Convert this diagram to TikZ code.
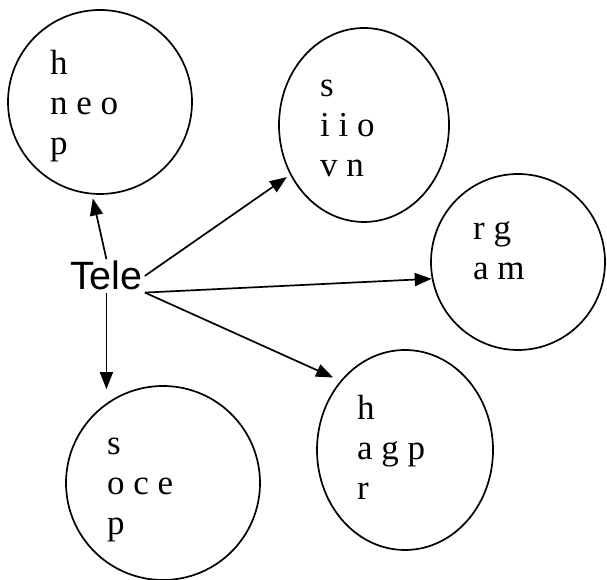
\documentclass[tikz,border=0pt]{standalone}
\usepackage{fontspec}
\setmainfont{Liberation Serif}
\newfontfamily\telefont{Liberation Sans}
\usetikzlibrary{arrows.meta,shapes.geometric}

\tikzset{
	bubble/.style={draw, ellipse, line width=1.7pt, inner sep=0pt},
	words/.style={anchor=base west, align=left, inner sep=0pt, font=\fontsize{35}{40}\selectfont},
	link/.style={-{Triangle[length=17pt,width=13pt]}, line width=1.7pt},
}

\begin{document}
\begin{tikzpicture}[x=1pt,y=1pt]
		\useasboundingbox (0,0) rectangle (607,580);
		% the five bubbles
		\node[bubble, minimum width=184pt, minimum height=184pt] (topleft) at (100,478) {};
		\node[bubble, minimum width=170pt, minimum height=194pt] (topmid) at (364,455) {};
		\node[bubble, minimum width=174pt, minimum height=176pt] (right) at (518,318) {};
		\node[bubble, minimum width=176pt, minimum height=200pt] (botmid) at (405,130) {};
		\node[bubble, minimum width=194pt, minimum height=194pt] (botleft) at (163,97) {};
		
		% base west is the baseline of the last line
		\node[words] (topleftwords) at (50,425) {h\\n e o\\p};
		\node[words] (topmidwords) at (320,403) {s\\i i o\\v n};
		\node[words] (rightwords) at (473,300) {r g\\a m};
		\node[words] (botmidwords) at (357,80) {h\\a g p\\r};
		\node[words] (botleftwords) at (107,45) {s\\o c e\\p};
		
		\node[anchor=base west, inner sep=2pt, font=\telefont\fontsize{39.5}{46}\selectfont] (tele) at (68,290) {Tele};
		
		\draw[link, shorten >=4pt] (tele.north) -- (topleft.265);
		\draw[link, shorten >=4pt] (tele.east) -- (topmid.214);
		\draw[link] (tele.south east) -- (right.191);
		\draw[link, shorten >=8pt] (tele.south east) -- (botmid.133);
		\draw[link, shorten >=-4pt] (tele.south) -- (tele.south |- botleft.north);
		
	\end{tikzpicture}
\end{document}
